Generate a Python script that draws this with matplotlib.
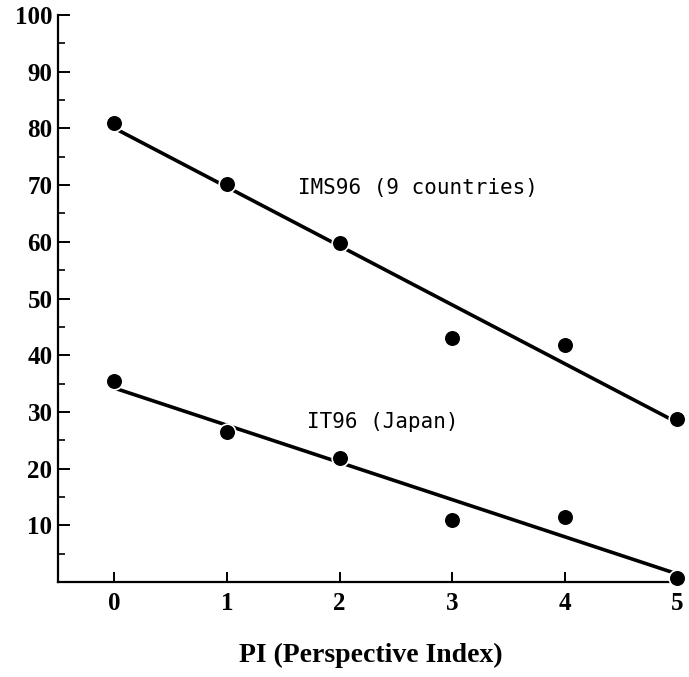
import numpy as np
import matplotlib
matplotlib.use("Agg")
import matplotlib.pyplot as plt
from matplotlib.ticker import MultipleLocator

# values
pi_index = [0, 1, 2, 3, 4, 5]
ims96 = [81.0, 70.2, 59.8, 43.0, 41.8, 28.7]
it96 = [35.4, 26.5, 21.9, 10.9, 11.5, 0.7]
x_ticks = [0, 1, 2, 3, 4, 5]
y_ticks = [10, 20, 30, 40, 50, 60, 70, 80, 90, 100]

serif = {"family": "Liberation Serif", "weight": "bold"}

fig = plt.figure(figsize=(6.89, 6.77), dpi=100)
ax = fig.add_axes([0.0842, 0.1403, 0.907, 0.8375])

for ys in (ims96, it96):
    slope, icpt = np.polyfit(pi_index, ys, 1)
    xs = np.array([pi_index[0], pi_index[-1]])
    ax.plot(xs, slope * xs + icpt, color="black", linewidth=2.6, zorder=2,
            solid_capstyle="butt")
    ax.plot(pi_index, ys, linestyle="none", marker="o", markersize=12,
            markerfacecolor="black", markeredgecolor="white", markeredgewidth=1.2,
            clip_on=False, zorder=3)

ax.text(1.63, 69.5, "IMS96 (9 countries)", family="DejaVu Sans Mono",
        fontsize=15, va="center", ha="left")
ax.text(1.71, 28.2, "IT96 (Japan)", family="DejaVu Sans Mono",
        fontsize=15, va="center", ha="left")

ax.set_xlim(-0.5, 5.05)
ax.set_ylim(0, 100)
ax.set_xticks(x_ticks)
ax.set_yticks(y_ticks)
ax.yaxis.set_minor_locator(MultipleLocator(5))
ax.set_xticklabels([str(v) for v in x_ticks], fontdict=serif, fontsize=18)
ax.set_yticklabels([str(v) for v in y_ticks], fontdict=serif, fontsize=18)

for side in ("top", "right"):
    ax.spines[side].set_visible(False)
for side in ("left", "bottom"):
    ax.spines[side].set_linewidth(1.6)

ax.tick_params(axis="y", which="major", direction="in", length=8.5, width=1.4, pad=4)
ax.tick_params(axis="y", which="minor", direction="in", length=5, width=1.2)
ax.tick_params(axis="x", which="major", direction="in", length=7, width=1.4, pad=7)

ax.set_xlabel("PI (Perspective Index)", fontdict=serif, fontsize=20, labelpad=20)

fig.savefig("out.png", dpi=100)
